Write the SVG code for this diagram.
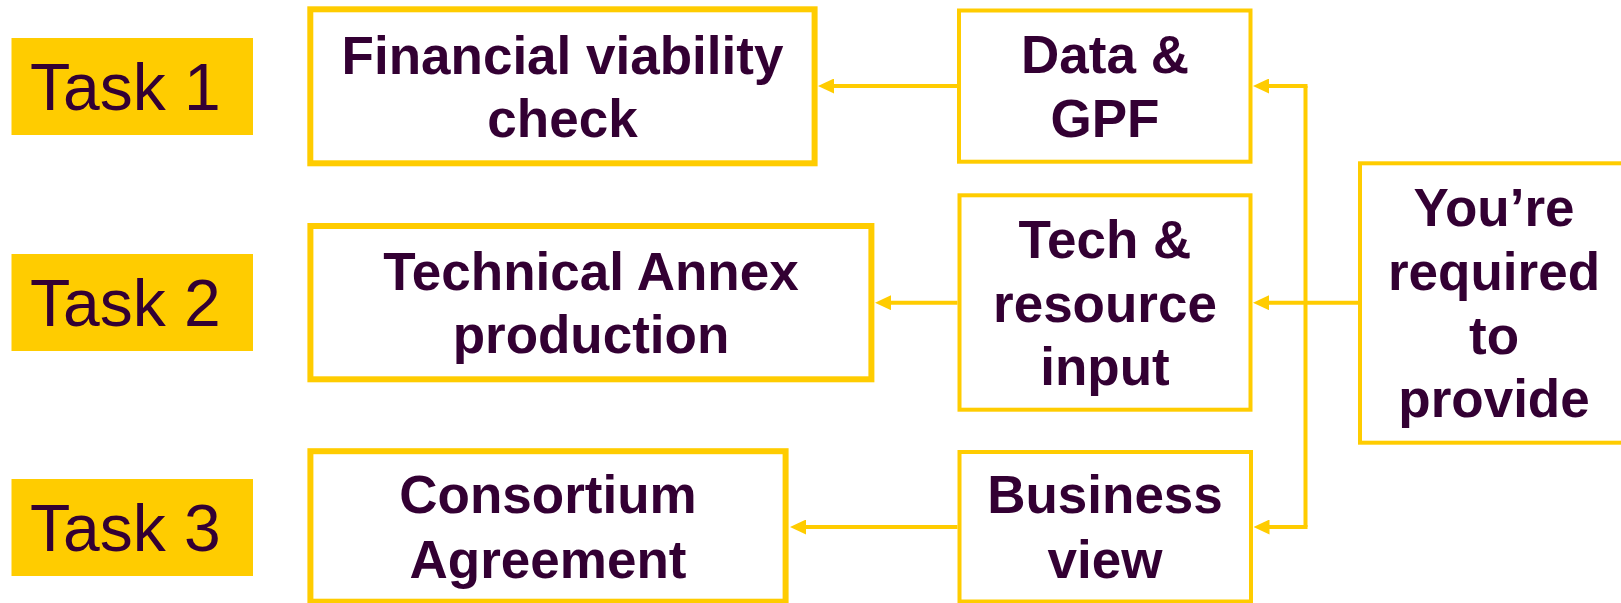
<svg xmlns="http://www.w3.org/2000/svg" width="1621" height="603" viewBox="0 0 1621 603">
<defs>
<style>
.task{fill:#FFCC00;}
.tt{font-family:"Liberation Sans",Arial,sans-serif;font-size:66px;fill:#330033;}
.box{fill:#FFFFFF;stroke:#FFCC00;}
.thick{stroke-width:6;}
.thin{stroke-width:4;}
.lbl{font-family:"Liberation Sans",Arial,sans-serif;font-size:53px;font-weight:bold;fill:#330033;text-anchor:middle;}
.con{fill:none;stroke:#FFCC00;stroke-width:4;}
</style>
<marker id="ah" markerUnits="userSpaceOnUse" markerWidth="16" markerHeight="15" viewBox="0 0 16 15" refX="10" refY="7.5" orient="auto">
<path d="M0,0 L16,7.5 L0,15 z" fill="#FFCC00"/>
</marker>
</defs>
<rect width="1621" height="603" fill="#FFFFFF"/>

<g id="task1"><rect class="task" x="11.5" y="38" width="241.5" height="97"/><text class="tt" x="30" y="110">Task 1</text></g>
<g id="task2"><rect class="task" x="11.5" y="254" width="241.5" height="97"/><text class="tt" x="30" y="326">Task 2</text></g>
<g id="task3"><rect class="task" x="11.5" y="479" width="241.5" height="97"/><text class="tt" x="30" y="551">Task 3</text></g>

<g id="financial"><rect class="box thick" x="310.3" y="9.3" width="504.3" height="154"/>
<text class="lbl" x="562.5" y="74">Financial viability</text><text class="lbl" x="562.5" y="137">check</text></g>

<g id="annex"><rect class="box thick" x="310.4" y="226" width="561" height="153.3"/>
<text class="lbl" x="591" y="290">Technical Annex</text><text class="lbl" x="591" y="353.3">production</text></g>

<g id="consortium"><rect class="box thick" x="310.4" y="451.2" width="475.2" height="150.5"/>
<text class="lbl" x="548" y="513.3">Consortium</text><text class="lbl" x="548" y="578.3">Agreement</text></g>

<g id="data"><rect class="box thin" x="959" y="10.5" width="291.5" height="151.2"/>
<text class="lbl" x="1105" y="73.3">Data &amp;</text><text class="lbl" x="1105" y="136.7">GPF</text></g>

<g id="tech"><rect class="box thin" x="959.5" y="195.3" width="291" height="214.4"/>
<text class="lbl" x="1105" y="258.3">Tech &amp;</text><text class="lbl" x="1105" y="321.7">resource</text><text class="lbl" x="1105" y="385">input</text></g>

<g id="business"><rect class="box thin" x="959.5" y="452" width="291.5" height="149.5"/>
<text class="lbl" x="1105" y="513.3">Business</text><text class="lbl" x="1105" y="577.7">view</text></g>

<g id="required"><rect class="box thin" x="1360" y="163.3" width="280" height="279.4"/>
<text class="lbl" x="1494" y="226">You’re</text><text class="lbl" x="1494" y="290">required</text><text class="lbl" x="1494" y="354">to</text><text class="lbl" x="1494" y="416.7">provide</text></g>

<g id="connectors">
<path class="con" d="M957,86 L824,86" marker-end="url(#ah)"/>
<path class="con" d="M957.5,302.7 L881,302.7" marker-end="url(#ah)"/>
<path class="con" d="M957.5,527 L796,527" marker-end="url(#ah)"/>
<path class="con" d="M1358,302.7 L1259,302.7" marker-end="url(#ah)"/>
<path class="con" d="M1305.5,86 L1305.5,527"/>
<path class="con" d="M1307.5,86 L1259,86" marker-end="url(#ah)"/>
<path class="con" d="M1307.5,527 L1259.5,527" marker-end="url(#ah)"/>
</g>
</svg>
